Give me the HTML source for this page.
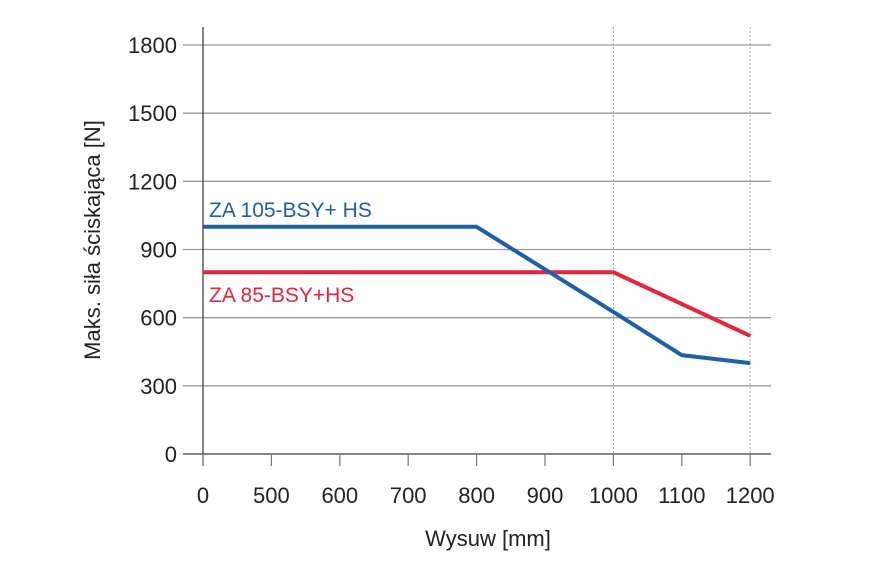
<!DOCTYPE html>
<html><head><meta charset="utf-8"><style>
body{margin:0;background:#fff;}
svg text{font-family:"Liberation Sans",sans-serif;fill:#222;}
</style></head><body>
<svg width="885" height="575">
<g id="grid"></g>
<g id="axes"></g>
<g id="series"></g>
<text x="209" y="217" font-size="21" style="fill:#1f5fa8">ZA 105-BSY+ HS</text>
<text x="209" y="302" font-size="21" style="fill:#e3263c">ZA 85-BSY+HS</text>
<text x="488" y="546" font-size="22" text-anchor="middle">Wysuw [mm]</text>
<text transform="translate(100,240) rotate(-90)" font-size="22" text-anchor="middle">Maks. siła ściskająca [N]</text>
</svg>
<script>
const xCats=[0,500,600,700,800,900,1000,1100,1200];
const xLabels=["0","500","600","700","800","900","1000","1100","1200"];
const yTicks=[0,300,600,900,1200,1500,1800];
const blueX=[0,800,1000,1100,1200];
const blueY=[1000,1000,625,435,400];
const redX=[0,1000,1200];
const redY=[800,800,520];
const NS="http://www.w3.org/2000/svg";
function xs(v){ if(v<=500) return 203+v/500*68.4; return 271.4+(v-500)/100*68.4; }
function ys(v){ return 454-v/1800*409; }
function el(t,a,p){const e=document.createElementNS(NS,t);for(const k in a)e.setAttribute(k,a[k]);p.appendChild(e);return e;}
const grid=document.getElementById('grid'),axes=document.getElementById('axes'),ser=document.getElementById('series');
yTicks.forEach(v=>{
 const l=el('line',{x1:183,x2:771,y1:ys(v),y2:ys(v),stroke:v===0?'#888':'#999','stroke-width':v===0?2:1.3},grid);
 
 
 const t=el('text',{x:177,y:ys(v)+8,'font-size':22,'text-anchor':'end'},axes);t.textContent=v;
 
 
});
[1000,1200].forEach(v=>{
 const l=el('line',{x1:xs(v),x2:xs(v),y1:27,y2:454,stroke:'#aaa','stroke-width':1,'stroke-dasharray':'2,2'},grid);
 
 
});
const ax=el('line',{x1:203,x2:203,y1:27,y2:466,stroke:'#333','stroke-width':1.2},axes);


xCats.forEach((v,i)=>{
 const tk=el('line',{x1:xs(v),x2:xs(v),y1:454,y2:466,stroke:'#777','stroke-width':1.2},axes);
 
 
 const t=el('text',{x:xs(v),y:503,'font-size':22,'text-anchor':'middle'},axes);t.textContent=xLabels[i];
 
 
});
function line(X,Y,c,n){
 const p=el('polyline',{points:X.map((x,i)=>xs(x)+','+ys(Y[i])).join(' '),fill:'none',stroke:c,'stroke-width':4,'stroke-linejoin':'round'},ser);
 
 
}
line(redX,redY,'#e3263c','line-za-85');
line(blueX,blueY,'#1f5fa8','line-za-105');
</script>
</body></html>
